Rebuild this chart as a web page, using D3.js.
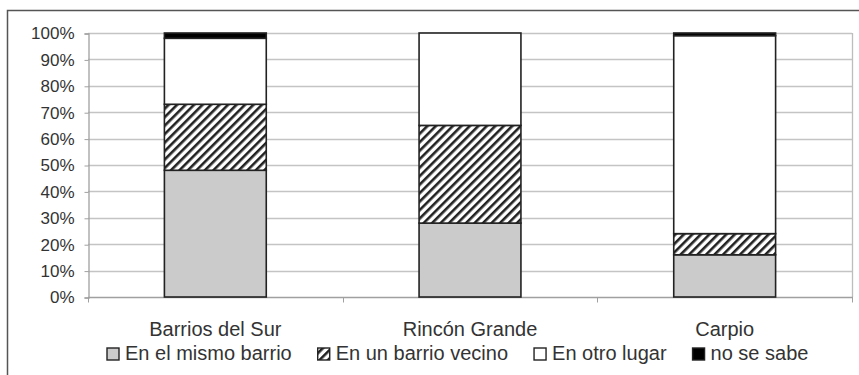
<!DOCTYPE html>
<html>
<head>
<meta charset="utf-8">
<script src="https://cdn.jsdelivr.net/npm/d3@7"></script>
<style>
  html, body { margin: 0; padding: 0; background: #fff; }
  svg { display: block; font-family: "Liberation Sans", Arial, sans-serif; }
</style>
</head>
<body>
<svg id="chart" width="859" height="375"></svg>
<script>
// Neighbourhoods compared
const categories = ["Barrios del Sur", "Rincón Grande", "Carpio"];
// Series (percent of each bar)
const seriesNames = ["En el mismo barrio", "En un barrio vecino", "En otro lugar", "no se sabe"];
const mismoBarrio = [48, 28, 16];
const barrioVecino = [25, 37, 8];
const otroLugar = [25, 35, 75];
const noSeSabe = [2, 0, 1];
const yTicks = [0, 10, 20, 30, 40, 50, 60, 70, 80, 90, 100];

const seriesValues = [mismoBarrio, barrioVecino, otroLugar, noSeSabe];
const rows = categories.map((c, i) => {
  const r = { cat: c };
  seriesNames.forEach((s, k) => { r[s] = seriesValues[k][i]; });
  return r;
});

const svg = d3.select("#chart");
const W = 859, H = 375;
const plot = { left: 88, right: 852, top: 33, bottom: 297 };

// Pattern for the diagonal hatching
const defs = svg.append("defs");
const pat = defs.append("pattern")
  .attr("id", "hatch")
  .attr("patternUnits", "userSpaceOnUse")
  .attr("width", 6).attr("height", 6)
  .attr("patternTransform", "rotate(45)");
pat.append("rect").attr("width", 6).attr("height", 6).attr("fill", "#fff");
pat.append("rect").attr("width", 2.6).attr("height", 6).attr("fill", "#222");

const fills = ["#cbcbcb", "url(#hatch)", "#ffffff", "#000000"];

// Outer frame
svg.append("rect")
  .attr("x", 7.5).attr("y", 10.5)
  .attr("width", W).attr("height", H)
  .attr("fill", "none").attr("stroke", "#555").attr("stroke-width", 1.5);

const x = d3.scaleBand().domain(categories).range([plot.left, plot.right]).padding(0);
const y = d3.scaleLinear().domain([0, 100]).range([plot.bottom, plot.top]);

// Gridlines
svg.append("g").selectAll("line").data(yTicks.filter(t => t > 0)).join("line")
  .attr("x1", plot.left).attr("x2", plot.right)
  .attr("y1", d => Math.round(y(d)) + 0.5).attr("y2", d => Math.round(y(d)) + 0.5)
  .attr("stroke", "#c4c4c4").attr("stroke-width", 1.3);

// Right edge of plot area
svg.append("line")
  .attr("x1", plot.right + 0.5).attr("x2", plot.right + 0.5)
  .attr("y1", plot.top).attr("y2", plot.bottom)
  .attr("stroke", "#bdbdbd").attr("stroke-width", 1.3);

// Y axis
const yAxis = d3.axisLeft(y).tickValues(yTicks).tickFormat(d => d + "%").tickSize(4).tickPadding(10);
const gy = svg.append("g").attr("transform", `translate(${plot.left + 0.5},0.5)`).call(yAxis);
gy.select(".domain").attr("stroke", "#a0a0a0").attr("stroke-width", 1.3);
gy.selectAll(".tick line").attr("stroke", "#a0a0a0");
gy.selectAll(".tick text").attr("fill", "#333").style("font-size", "17px")
  .style("font-family", "'Liberation Sans', Arial, sans-serif");

// X axis (ticks at category boundaries)
const gx = svg.append("g").attr("transform", `translate(0,${plot.bottom + 0.5})`);
gx.append("line").attr("x1", plot.left).attr("x2", plot.right + 1)
  .attr("stroke", "#a0a0a0").attr("stroke-width", 1.3);
const bounds = categories.map(c => x(c)).concat([x(categories[categories.length - 1]) + x.bandwidth()]);
gx.selectAll("line.b").data(bounds).join("line").attr("class", "b")
  .attr("x1", d => Math.round(d) + 0.5).attr("x2", d => Math.round(d) + 0.5)
  .attr("y1", 0).attr("y2", 5).attr("stroke", "#a0a0a0");
gx.selectAll("text").data(categories).join("text")
  .attr("x", d => x(d) + x.bandwidth() / 2)
  .attr("y", 38)
  .attr("text-anchor", "middle")
  .attr("fill", "#333").style("font-size", "20px")
  .text(d => d);

// Stacked bars
const stack = d3.stack().keys(seriesNames)(rows);
const barW = x.bandwidth() * 0.4;
const gb = svg.append("g");
stack.forEach((layer, k) => {
  gb.append("g").selectAll("rect").data(layer.filter(d => d[1] > d[0])).join("rect")
    .attr("x", d => x(d.data.cat) + (x.bandwidth() - barW) / 2)
    .attr("y", d => y(d[1]))
    .attr("width", barW)
    .attr("height", d => y(d[0]) - y(d[1]))
    .attr("fill", fills[k])
    .attr("stroke", "#222").attr("stroke-width", 1.6);
});

// Legend
const lg = svg.append("g");
const items = lg.selectAll("g").data(seriesNames).join("g");
items.append("rect").attr("class", "sw")
  .attr("width", 12).attr("height", 12).attr("y", -12)
  .attr("fill", (d, i) => fills[i])
  .attr("stroke", "#222").attr("stroke-width", 1.4);
items.append("text").attr("x", 18).attr("y", 0)
  .attr("fill", "#333").style("font-size", "20px").text(d => d);
let cx = 0;
items.each(function () {
  const g = d3.select(this);
  g.attr("transform", `translate(${cx},0)`);
  cx += 18 + g.select("text").node().getComputedTextLength() + 26;
});
const total = cx - 26;
lg.attr("transform", `translate(${Math.round(458 - total / 2)},360)`);
</script>
</body>
</html>
